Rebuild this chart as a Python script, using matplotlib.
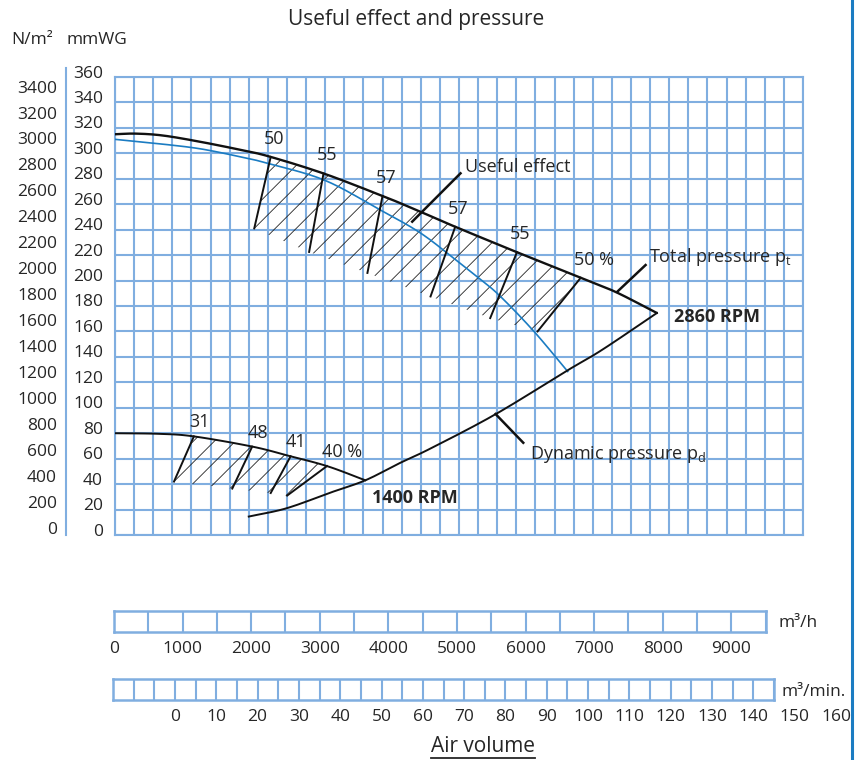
import numpy as np
import matplotlib
matplotlib.use('Agg')
import matplotlib.pyplot as plt
from matplotlib.lines import Line2D
from matplotlib.patches import Polygon
from matplotlib import transforms as mtrans

plt.rcParams['font.family'] = ['Open Sans', 'DejaVu Sans']
plt.rcParams['mathtext.fontset'] = 'custom'
plt.rcParams['mathtext.rm'] = 'Open Sans'
plt.rcParams['mathtext.it'] = 'Open Sans:italic'

# ---------------- data (air volume in m3/h, pressure in mmWG) ----------------
tp2860_q = [0, 300, 700, 1250, 1850, 2250, 3050, 3900, 4150, 4500, 4950, 5850, 6800, 7300, 7900]
tp2860_p = [315, 315.5, 314, 309, 302.5, 297.5, 284, 266.5, 261, 253, 242.5, 222.5, 202, 191, 174.5]

useful_q = [0, 650, 1250, 1850, 2200, 3050, 3850, 4450, 4950, 5300, 5600, 6100, 6600]
useful_p = [311, 307.5, 303.5, 297, 292.5, 279, 256, 237.5, 217, 202, 188.5, 160.5, 128.5]

dyn_q = [1950, 2500, 3150, 3650, 4150, 4600, 5550, 6600, 7100, 7900]
dyn_p = [14.5, 21, 33.5, 43, 56.5, 68, 95, 129.5, 145.5, 174.5]

tp1400_q = [0, 650, 1150, 2000, 2550, 3100, 3650]
tp1400_p = [80, 79.5, 77.5, 69.5, 62, 54, 43]

eff2860_labels = ['50', '55', '57', '57', '55', '50 %']
eff2860_q_top = [2270, 3040, 3900, 4960, 5860, 6790]
eff2860_q_bot = [2030, 2830, 3680, 4600, 5470, 6160]
eff2860_p_bot = [241, 222.5, 206, 187.5, 170.5, 160]

eff1400_labels = ['31', '48', '41', '40 %']
eff1400_q_top = [1150, 2000, 2560, 3090]
eff1400_q_bot = [860, 1710, 2270, 2510]
eff1400_p_bot = [42, 36.5, 33, 31]

mmwg_ticks = list(range(0, 361, 20))
nm2_ticks = list(range(0, 3401, 200))
mh_ticks = list(range(0, 9001, 1000))
mmin_ticks = list(range(0, 161, 10))

# ---------------- style ----------------
GRID = '#80aee0'
BLUE = '#1b7cc2'
TXT = '#262626'
INK = '#111111'
W, H = 862, 760
XMAX = 10030


def smooth(x, y, n=16):
    """Uniform Catmull-Rom curve through the read points (for drawing only)."""
    P = np.column_stack([x, y]).astype(float)
    P = np.vstack([2 * P[0] - P[1], P, 2 * P[-1] - P[-2]])
    t = np.linspace(0, 1, n, endpoint=False)[:, None]
    out = []
    for i in range(1, len(P) - 2):
        p0, p1, p2, p3 = P[i - 1], P[i], P[i + 1], P[i + 2]
        out.append(0.5 * (2 * p1 + (-p0 + p2) * t + (2 * p0 - 5 * p1 + 4 * p2 - p3) * t ** 2
                          + (-p0 + 3 * p1 - 3 * p2 + p3) * t ** 3))
    out.append(P[-2][None, :])
    S = np.vstack(out)
    return S[:, 0], S[:, 1]


fig = plt.figure(figsize=(W / 100, H / 100), dpi=100)


def frect(l, t, r, b):
    return [l / W, 1 - b / H, (r - l) / W, (b - t) / H]


ax = fig.add_axes(frect(115, 77, 803, 535))
ax.set_xlim(0, XMAX)
ax.set_ylim(0, 360)
ax.set_xticks(np.linspace(0, XMAX, 37))
ax.set_yticks(mmwg_ticks)
ax.set_yticklabels([str(v) for v in mmwg_ticks])
ax.tick_params(axis='x', length=0, labelbottom=False)
ax.tick_params(axis='y', length=0, pad=12 * 0.72, labelsize=12.5, labelcolor=TXT)
ax.grid(True, color=GRID, lw=1.5)
ax.set_axisbelow(True)
for s in ax.spines.values():
    s.set_color(GRID)
    s.set_linewidth(1.5)
up = mtrans.ScaledTranslation(0, 5.5 / 100, fig.dpi_scale_trans)
for lbl in ax.get_yticklabels():
    lbl.set_transform(lbl.get_transform() + up)

# N/m2 labels
tr_nm = mtrans.blended_transform_factory(fig.transFigure, ax.transData) + up
for v in nm2_ticks:
    ax.text(57 / W, v / 9.81, str(v), transform=tr_nm, ha='right', va='center',
            fontsize=12.5, color=TXT, clip_on=False)
fig.add_artist(Line2D([65.7 / W] * 2, [1 - 68 / H, 1 - 535 / H], transform=fig.transFigure,
                      color=GRID, lw=1.5))

# curves
tp2860_sq, tp2860_sp = smooth(tp2860_q, tp2860_p)
useful_sq, useful_sp = smooth(useful_q, useful_p)
dyn_sq, dyn_sp = smooth(dyn_q, dyn_p)
tp1400_sq, tp1400_sp = smooth(tp1400_q, tp1400_p)
ax.plot(tp2860_sq, tp2860_sp, color=INK, lw=1.7, solid_capstyle='round', zorder=4)
ax.plot(useful_sq, useful_sp, color=BLUE, lw=1.2, zorder=4)
ax.plot(dyn_sq, dyn_sp, color=INK, lw=1.4, zorder=4)
ax.plot(tp1400_sq, tp1400_sp, color=INK, lw=1.4, zorder=4)

# screen geometry for hatch
fig.canvas.draw()
px_x = ax.bbox.width / XMAX
px_y = ax.bbox.height / 360.0
slope = px_x / px_y
step = 21.0 / px_x


def region(curve_q, curve_p, q_top, q_bot, p_bot, labels, lab_dx, lab_dy):
    q_top = np.asarray(q_top, float)
    p_top = np.interp(q_top, curve_q, curve_p)
    qs = np.linspace(q_top[0], q_top[-1], 120)
    ps = np.interp(qs, curve_q, curve_p)
    verts = list(zip(qs, ps)) + list(zip(q_bot[::-1], p_bot[::-1]))
    poly = Polygon(verts, closed=True, facecolor='none', edgecolor='none')
    ax.add_patch(poly)
    xr, yr = q_bot[0], p_bot[0]
    for k in range(-40, 40):
        x0 = xr + k * step
        xs = np.array([x0 - 6000, x0 + 6000])
        ys = yr + slope * (xs - x0)
        ln, = ax.plot(xs, ys, color='#222222', lw=0.6, zorder=3)
        ln.set_clip_path(poly)
    for qt, pt, qb, pb, lab in zip(q_top, p_top, q_bot, p_bot, labels):
        ax.plot([qt, qb], [pt, pb], color=INK, lw=1.4, zorder=5)
        ax.annotate(lab, (qt, pt), xytext=(lab_dx * 0.72, lab_dy * 0.72), textcoords='offset points',
                    ha='left', va='center', fontsize=13, color=TXT, zorder=6)


region(tp2860_sq, tp2860_sp, eff2860_q_top, eff2860_q_bot, eff2860_p_bot, eff2860_labels, -7, 18)
region(tp1400_sq, tp1400_sp, eff1400_q_top, eff1400_q_bot, eff1400_p_bot, eff1400_labels, -5, 14)

# leaders and curve names
ax.plot([5037, 4333], [284.3, 246.3], color=INK, lw=1.8, zorder=5)
ax.text(5109, 289.5, 'Useful effect', fontsize=13, color=TXT, ha='left', va='center')
ax.plot([7735, 7322], [212.2, 191.2], color=INK, lw=1.8, zorder=5)
ax.text(7781, 218.7, 'Total pressure p$_{\\mathrm{t}}$', fontsize=13, color=TXT, ha='left', va='center')
ax.text(8146, 171.6, '2860 RPM', fontsize=13, color=TXT, ha='left', va='center', fontweight='bold')
ax.plot([5548, 5952], [95.1, 72.5], color=INK, lw=1.8, zorder=5)
ax.text(6057, 63.4, 'Dynamic pressure p$_{\\mathrm{d}}$', fontsize=13, color=TXT, ha='left', va='center')
ax.text(3749, 28.8, '1400 RPM', fontsize=13, color=TXT, ha='left', va='center', fontweight='bold')

# titles
fig.text(416 / W, 1 - 20 / H, 'Useful effect and pressure', ha='center', va='center', fontsize=15, color=TXT)
fig.text(32.5 / W, 1 - 39.5 / H, 'N/m²', ha='center', va='center', fontsize=12.5, color=TXT)
fig.text(96.5 / W, 1 - 39.5 / H, 'mmWG', ha='center', va='center', fontsize=12.5, color=TXT)


# lower scales
def scale_bar(rect, lo, hi, step_, ticks, label_y, unit, unit_x, unit_y):
    b = fig.add_axes(rect)
    b.set_xlim(lo, hi)
    b.set_ylim(0, 1)
    b.set_xticks(np.arange(lo, hi + step_ / 2, step_))
    b.set_yticks([])
    b.tick_params(length=0, labelbottom=False)
    b.grid(axis='x', color=GRID, lw=1.5)
    b.patch.set_alpha(0)
    for s in b.spines.values():
        s.set_color(GRID)
        s.set_linewidth(1.8)
    tr = mtrans.blended_transform_factory(b.transData, fig.transFigure)
    for v in ticks:
        b.text(v, 1 - label_y / H, str(v), transform=tr, ha='center', va='center',
               fontsize=12.5, color=TXT, clip_on=False)
    fig.text(unit_x / W, 1 - unit_y / H, unit, ha='left', va='center', fontsize=12.5, color=TXT)
    return b


scale_bar(frect(114, 610.7, 765.7, 631.7), 0, 9500, 500, mh_ticks, 649, 'm³/h', 779, 622.7)
scale_bar(frect(113, 679.3, 774, 700), -15, 145, 5, mmin_ticks, 716.7, 'm³/min.', 781.5, 692)

t = fig.text(483 / W, 1 - 746 / H, 'Air volume', ha='center', va='center', fontsize=15, color=TXT)
fig.canvas.draw()
bb = t.get_window_extent()
fig.add_artist(Line2D([bb.x0 / W, bb.x1 / W], [1 - 757.5 / H] * 2, transform=fig.transFigure,
                      color=TXT, lw=1.3))

# right border
fig.add_artist(Line2D([852.5 / W] * 2, [0, 1], transform=fig.transFigure, color=BLUE, lw=2.2))

fig.savefig('out.png', dpi=100)
